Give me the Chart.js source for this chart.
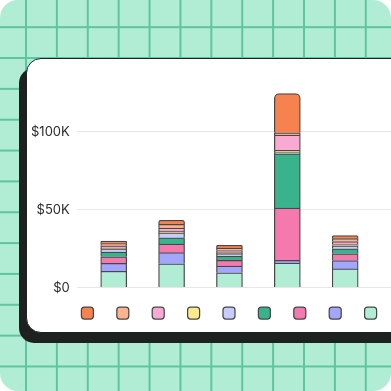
<!DOCTYPE html>
<html>
<head>
<meta charset="utf-8">
<script src="https://cdn.jsdelivr.net/npm/chart.js@4"></script>
<style>
  html, body { margin: 0; padding: 0; background: #fff; }
  #page {
    position: relative;
    width: 391px;
    height: 391px;
    overflow: hidden;
    border-radius: 18px;
    background-color: #b1edd4;
    background-image:
      linear-gradient(to right, #5ec59d 1.6px, transparent 1.6px),
      linear-gradient(to bottom, #5ec59d 1.6px, transparent 1.6px);
    background-size: 30.9px 30.85px;
    background-position: 25px 26.2px;
  }
  #card {
    position: absolute;
    left: 26px;
    top: 58px;
    width: 420px;
    height: 275px;
    box-sizing: border-box;
    background: #fff;
    border: 1.2px solid #1d211f;
    border-radius: 15px;
    box-shadow: -7px 10px 0 #1d211f;
  }
  #wrap {
    position: absolute;
    left: 27px;
    top: 58px;
    width: 405px;
    height: 275px;
  }
</style>
</head>
<body>
<div id="page">
  <div id="card"></div>
  <div id="wrap"><canvas id="myChart"></canvas></div>
</div>
<script>
// values in dollars, stacked bottom -> top
const categories = ['Jan', 'Feb', 'Mar', 'Apr', 'May', 'Jun'];
const mint = [10500, 15300, 9500, 15700, 12000, null];
const periwinkle = [5000, 7100, 4300, 1800, 5400, null];
const pink = [4300, 5500, 3700, 33500, 4300, null];
const teal = [3000, 4100, 2600, 34800, 3200, null];
const lavender = [2000, 3200, 1700, 800, 1900, null];
const yellow = [500, 1000, 600, 1500, 800, null];
const lightPink = [1500, 2000, 1400, 9700, 2000, null];
const peach = [1500, 2400, 1600, 1500, 1800, null];
const orange = [1600, 2600, 1800, 25200, 2000, null];
const yTicks = [0, 50000, 100000];

const edge = '#474747';

function series(label, data, color) {
    return {
        label: label,
        data: data,
        backgroundColor: color,
        borderColor: edge,
        borderWidth: 1.25,
        borderRadius: 5,
        barThickness: 26
    };
}

const ctx = document.getElementById('myChart').getContext('2d');

const myChart = new Chart(ctx, {
    type: 'bar',
    data: {
        labels: categories,
        datasets: [
            series('Mint', mint, '#b1edd5'),
            series('Periwinkle', periwinkle, '#a2a6fd'),
            series('Pink', pink, '#f47aad'),
            series('Teal', teal, '#39b38c'),
            series('Lavender', lavender, '#c8cbfd'),
            series('Yellow', yellow, '#fdea8c'),
            series('Light pink', lightPink, '#f9aad3'),
            series('Peach', peach, '#fdb48e'),
            series('Orange', orange, '#f6834f')
        ]
    },
    options: {
        responsive: true,
        maintainAspectRatio: false,
        animation: false,
        layout: {
            padding: { top: 27, left: 5, right: 0, bottom: 4 }
        },
        scales: {
            x: {
                stacked: true,
                grid: { display: false },
                border: { color: '#e6e6e6' },
                ticks: { display: false },
                afterFit: function(axis) {
                    axis.height = Math.max(0, axis.height - 6);
                }
            },
            y: {
                stacked: true,
                min: 0,
                max: 130000,
                border: { display: false },
                grid: { color: '#e8e8e8', tickLength: 8 },
                afterBuildTicks: function(axis) {
                    axis.ticks = yTicks.map(v => ({ value: v }));
                },
                afterFit: function(axis) {
                    axis.width = axis.width - 8;
                },
                ticks: {
                    padding: 7,
                    color: '#2b2b2b',
                    font: { family: 'Inter', size: 13 },
                    callback: function(value) {
                        return value === 0 ? '$0' : '$' + (value / 1000) + 'K';
                    }
                }
            }
        },
        plugins: {
            tooltip: { enabled: false },
            legend: {
                position: 'bottom',
                reverse: true,
                labels: {
                    boxWidth: 12,
                    boxHeight: 12,
                    padding: 17.4,
                    useBorderRadius: true,
                    borderRadius: 3,
                    font: { family: 'Inter', size: 12 },
                    generateLabels: function(chart) {
                        return Chart.defaults.plugins.legend.labels.generateLabels(chart)
                            .map(item => Object.assign(item, { text: '' }));
                    }
                }
            }
        }
    }
});
</script>
</body>
</html>
